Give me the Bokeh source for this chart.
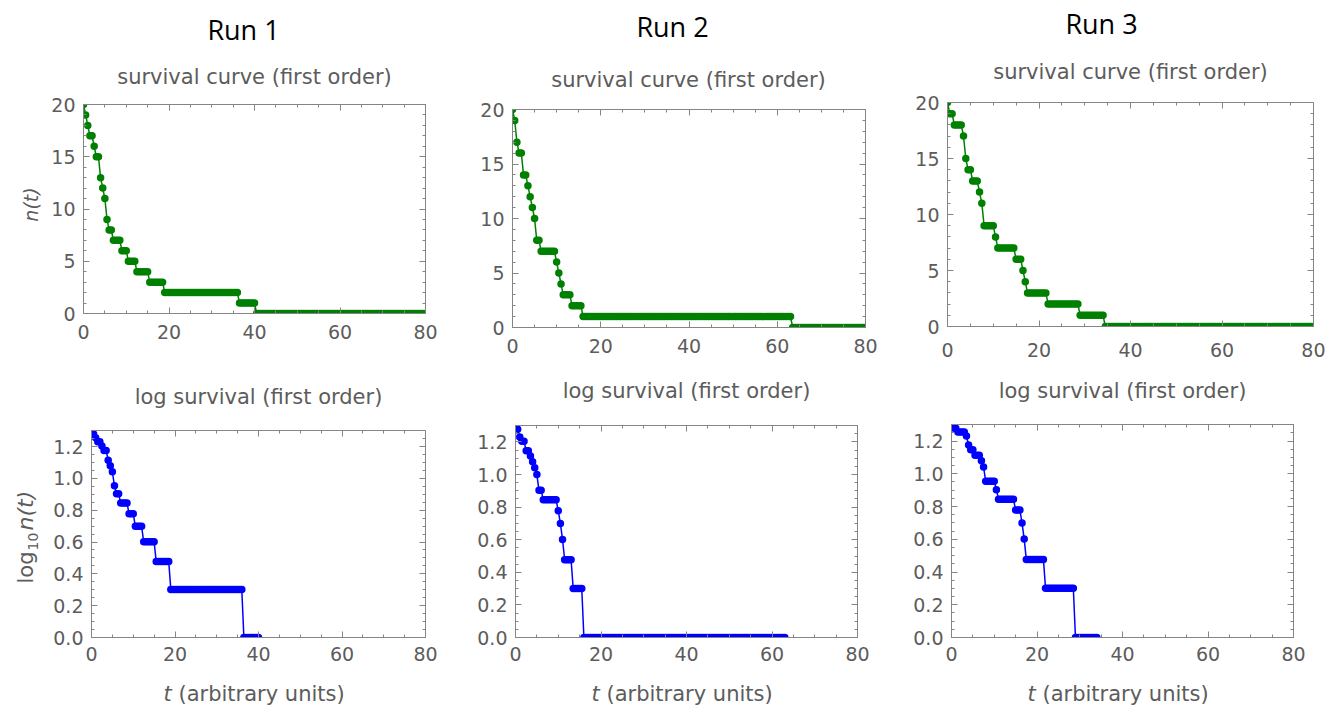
import numpy as np
from bokeh.plotting import figure
from bokeh.models import Range1d, LinearAxis, FixedTicker
from bokeh.layouts import row, column
from bokeh.core.properties import value
from bokeh.embed import file_html
from bokeh.resources import INLINE

# ---------------- data ----------------
N_START = 20          # particles at t = 0
T_END = 80            # end of the simulated time window
SAMPLE_STEP = 0.5     # time step of the plotted samples

# decay time of each of the 20 particles, per run
run1_decay_times = [0.3, 0.8, 1.3, 2.3, 2.8, 3.8, 3.9, 4.3, 4.8, 5.3,
                    5.4, 5.8, 6.8, 8.8, 10.3, 12.3, 15.3, 18.8, 36.3, 40.3]
run2_decay_times = [0.3, 0.8, 0.9, 1.3, 2.3, 2.4, 3.3, 3.8, 4.3, 4.8,
                    5.3, 5.4, 6.3, 9.8, 10.3, 10.8, 11.3, 13.3, 15.8, 63.3]
run3_decay_times = [0.3, 1.3, 3.3, 3.8, 3.9, 4.3, 5.3, 6.8, 7.3, 7.8,
                    7.9, 10.3, 10.8, 14.8, 16.3, 16.8, 17.3, 21.8, 28.8, 34.3]

run_titles = ["Run 1", "Run 2", "Run 3"]
top_title = "survival curve (first order)"
bottom_title = "log survival (first order)"
x_title_var = "t"
x_title_rest = "(arbitrary units)"

t_ticks = [0, 20, 40, 60, 80]
t_tick_labels = ["0", "20", "40", "60", "80"]
t_minor = [5, 10, 15, 25, 30, 35, 45, 50, 55, 65, 70, 75]
n_ticks = [0, 5, 10, 15, 20]
n_tick_labels = ["0", "5", "10", "15", "20"]
n_minor = [1, 2, 3, 4, 6, 7, 8, 9, 11, 12, 13, 14, 16, 17, 18, 19]
log_ticks = [0.0, 0.2, 0.4, 0.6, 0.8, 1.0, 1.2]
log_tick_labels = ["0.0", "0.2", "0.4", "0.6", "0.8", "1.0", "1.2"]
log_minor = [0.05, 0.1, 0.15, 0.25, 0.3, 0.35, 0.45, 0.5, 0.55, 0.65, 0.7,
             0.75, 0.85, 0.9, 0.95, 1.05, 1.1, 1.15, 1.25]

# ---------------- styling ----------------
GREEN = "#008000"
BLUE = "#0000ff"
FRAME = "#858585"
TEXT = "#5c5c5c"
MATH_FONT = "DejaVu Sans"
TITLE_FONT = "Open Sans"

# page geometry (px)
LEFT_W = 45
cols = [(45, 425), (470, 430), (900, 425)]          # (page x, width)
head_h = [92, 96, 88]                                # header height per column
MID_Y, MID_H = 366, 52
BOT_Y, BOT_H = 418, 252
FOOT_Y, FOOT_H = 670, 39
top_frames = [(83, 104, 425, 313), (512, 109, 865, 327), (947, 102, 1313, 326)]
bot_frames = [(91, 430, 425, 637), (515, 425, 857, 637), (951, 424, 1293, 637)]
top_x_standoff = [11, 11, 16]
# vertical middles of the texts (page px)
run_title_pos = [(243, 29), (672, 26), (1101, 23)]
top_sub_pos = [(254, 76), (688, 79), (1130, 71)]
bot_sub_pos = [(258, 396), (686, 390), (1122, 390)]
X_TITLE_MID = 693

LOG_MAX = float(np.log10(N_START))


def survival(decays):
    t = np.arange(0, T_END + SAMPLE_STEP / 2, SAMPLE_STEP)
    d = np.sort(np.asarray(decays, dtype=float))
    n = N_START - np.searchsorted(d, t, side="right")
    return t, n


def style_axis(ax, ticker, labels, show, standoff):
    ax.ticker = ticker
    ax.major_label_overrides = {float(k): v for k, v in zip(ticker.ticks, labels)}
    ax.axis_line_color = FRAME
    ax.major_tick_line_color = FRAME
    ax.minor_tick_line_color = FRAME
    ax.major_tick_in = 6
    ax.major_tick_out = 0
    ax.minor_tick_in = 3
    ax.minor_tick_out = 0
    ax.major_label_text_font = MATH_FONT
    if show:
        ax.major_label_text_font_size = "19px"
        ax.major_label_text_color = TEXT
        ax.major_label_standoff = standoff
    else:
        ax.major_label_text_font_size = "0px"
        ax.major_label_text_color = None
        ax.major_label_standoff = 0


def plot_fig(col, y0, H, frame, yr, yticks, ylabels, yminor, xstand, ystand):
    cx, W = col
    l, t, r, b = frame
    p = figure(width=W, height=H, x_range=Range1d(0, T_END), y_range=Range1d(*yr),
               output_backend="svg", toolbar_location=None, title=None,
               min_border_left=l - cx, min_border_right=cx + W - r,
               min_border_top=t - y0, min_border_bottom=y0 + H - b)
    p.grid.visible = False
    p.outline_line_color = FRAME
    p.outline_line_width = 1
    p.background_fill_color = "white"
    p.border_fill_color = "white"
    xt = FixedTicker(ticks=t_ticks, minor_ticks=t_minor)
    yt = FixedTicker(ticks=yticks, minor_ticks=yminor)
    style_axis(p.xaxis[0], xt, t_tick_labels, True, xstand)
    style_axis(p.yaxis[0], yt, ylabels, True, ystand)
    top_ax = LinearAxis()
    right_ax = LinearAxis()
    style_axis(top_ax, xt, t_tick_labels, False, 0)
    style_axis(right_ax, yt, ylabels, False, 0)
    p.add_layout(top_ax, "above")
    p.add_layout(right_ax, "right")
    return p


def text_fig(x_left, y_top, W, H):
    # a blank figure whose data coordinates are page pixels
    p = figure(width=W, height=H, x_range=Range1d(x_left, x_left + W),
               y_range=Range1d(y_top + H, y_top), output_backend="svg",
               toolbar_location=None, title=None, min_border=0,
               x_axis_type=None, y_axis_type=None)
    p.grid.visible = False
    p.outline_line_color = None
    p.background_fill_color = "white"
    p.border_fill_color = "white"
    return p


def put(p, x, y, txt, size, color=TEXT, font=MATH_FONT, style="normal",
        align="center", angle=0.0):
    p.text(x=[x], y=[y], text=[txt], text_font=value(font),
           text_font_size=f"{size}px", text_color=color,
           text_font_style=style, text_align=align,
           text_baseline="middle", angle=angle)


runs = [run1_decay_times, run2_decay_times, run3_decay_times]

# left strip with the y-axis titles of the first column
left = text_fig(0, 0, LEFT_W, 709)
put(left, 30, 204, "n(t)", 19, style="italic", angle=np.pi / 2)
put(left, 25, 583, "log", 21, align="left", angle=np.pi / 2)
put(left, 32, 550, "10", 14, align="left", angle=np.pi / 2)
put(left, 25, 530, "n(t)", 22, style="italic", align="left", angle=np.pi / 2)

columns = [left]
for i, decays in enumerate(runs):
    t, n = survival(decays)
    col = cols[i]
    cx, W = col
    hh = head_h[i]

    head = text_fig(cx, 0, W, hh)
    put(head, run_title_pos[i][0], run_title_pos[i][1], run_titles[i], 27,
        color="black", font=TITLE_FONT)
    put(head, top_sub_pos[i][0], top_sub_pos[i][1], top_title, 21)

    pt = plot_fig(col, hh, MID_Y - hh, top_frames[i], (0, N_START),
                  n_ticks, n_tick_labels, n_minor, top_x_standoff[i], 8)
    pt.line(t, n, line_color=GREEN, line_width=1.5)
    pt.scatter(t, n, size=7.5, fill_color=GREEN, line_color=None)

    mid = text_fig(cx, MID_Y, W, MID_H)
    put(mid, bot_sub_pos[i][0], bot_sub_pos[i][1], bottom_title, 21)

    keep = n > 0
    tl = t[keep]
    ln = np.log10(n[keep])
    pb = plot_fig(col, BOT_Y, BOT_H, bot_frames[i], (0, LOG_MAX),
                  log_ticks, log_tick_labels, log_minor, 9, 8)
    pb.line(tl, ln, line_color=BLUE, line_width=1.5)
    pb.scatter(tl, ln, size=7.5, fill_color=BLUE, line_color=None)

    foot = text_fig(cx, FOOT_Y, W, FOOT_H)
    l, _, r, _ = bot_frames[i]
    cxm = (l + r) / 2
    put(foot, cxm - 95, X_TITLE_MID, x_title_var, 21, style="italic", align="left")
    put(foot, cxm - 80, X_TITLE_MID, x_title_rest, 21, align="left")

    columns.append(column(row(head), row(pt), row(mid), row(pb), row(foot),
                          spacing=0))

layout = row(*columns, spacing=0)
open("out.html", "w").write(file_html(layout, INLINE))
